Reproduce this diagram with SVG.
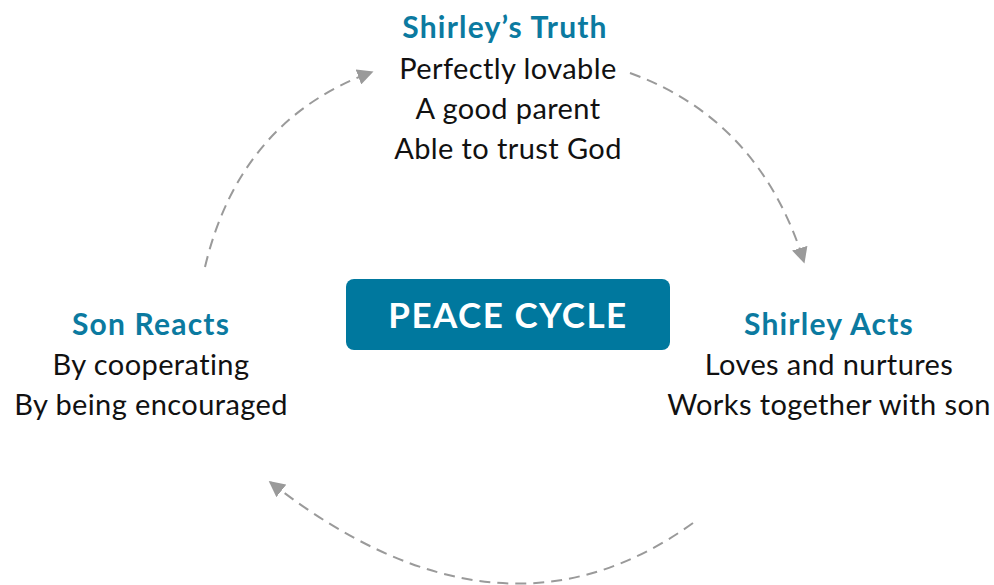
<svg xmlns="http://www.w3.org/2000/svg" width="994" height="585" viewBox="0 0 994 585">
<style>
.t{font-family:Lato,"Noto Sans",sans-serif;font-weight:bold;font-size:30px;letter-spacing:1.2px;fill:#0b7aa0;text-anchor:middle}
.b{font-family:Lato,"Noto Sans",sans-serif;font-size:29px;letter-spacing:0.4px;fill:#111;text-anchor:middle}
.c{fill:none;stroke:#9a9a9a;stroke-width:2;stroke-dasharray:11 7}
</style>
<defs>
<marker id="ah" viewBox="0 0 10 10" refX="9" refY="5" markerUnits="userSpaceOnUse" markerWidth="16" markerHeight="16" orient="auto"><path d="M0,0 L10,5 L0,10 z" fill="#9a9a9a"/></marker>
</defs>
<rect width="994" height="585" fill="#fff"/>
<g id="connectors">
<path class="c" d="M205,267 Q240,120 372,72" marker-end="url(#ah)"/>
<path class="c" d="M630,73 Q760,120 804,262" marker-end="url(#ah)"/>
<path class="c" d="M693,523 Q500,662 270,482" marker-end="url(#ah)"/>
</g>
<g id="center">
<rect x="346" y="279" width="324" height="71" rx="8" fill="#00789e"/>
<text x="508" y="328" font-family="Lato,'Noto Sans',sans-serif" font-weight="bold" font-size="35" fill="#fff" text-anchor="middle" letter-spacing="1.5">PEACE CYCLE</text>
</g>
<g id="truth">
<text class="t" x="505" y="38">Shirley’s Truth</text>
<text class="b" x="508" y="79">Perfectly lovable</text>
<text class="b" x="508" y="119">A good parent</text>
<text class="b" x="508" y="159">Able to trust God</text>
</g>
<g id="acts">
<text class="t" x="829" y="335">Shirley Acts</text>
<text class="b" x="829" y="375">Loves and nurtures</text>
<text class="b" x="829" y="415">Works together with son</text>
</g>
<g id="reacts">
<text class="t" x="151" y="335">Son Reacts</text>
<text class="b" x="151" y="375">By cooperating</text>
<text class="b" x="151" y="415">By being encouraged</text>
</g>
</svg>
